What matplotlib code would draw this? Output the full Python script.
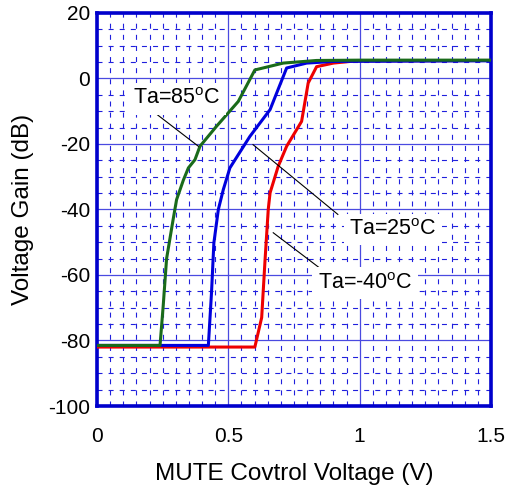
import matplotlib.pyplot as plt
from matplotlib.ticker import MultipleLocator

plt.rcParams['font.family'] = ['Liberation Sans', 'DejaVu Sans']
plt.rcParams['mathtext.fontset'] = 'custom'
plt.rcParams['mathtext.rm'] = 'Liberation Sans'
plt.rcParams['axes.unicode_minus'] = False

# curves
v_85 = [0, 0.24, 0.252, 0.265, 0.29, 0.303, 0.329, 0.348, 0.373, 0.392, 0.455, 0.538, 0.601, 0.709, 0.836, 1.0, 1.5]
db_85 = [-81.5, -81.5, -69.5, -55, -43, -37, -31, -27.3, -24.8, -20.7, -14.6, -7, 2.6, 4.7, 5.5, 5.6, 5.6]

v_25 = [0, 0.424, 0.436, 0.445, 0.462, 0.481, 0.506, 0.582, 0.659, 0.722, 0.798, 0.9, 1.5]
db_25 = [-81.5, -81.5, -65.4, -50.2, -40, -33.9, -27.3, -17.7, -9.5, 3.2, 4.7, 5.2, 5.4]

v_m40 = [0, 0.601, 0.627, 0.64, 0.652, 0.659, 0.69, 0.722, 0.779, 0.804, 0.836, 0.9, 0.989, 1.5]
db_m40 = [-82, -82, -73, -55.2, -40, -34.9, -26.8, -20.7, -13.1, -1.4, 3.6, 4.7, 5.4, 5.5]

labels = ['Ta=85$^{\\mathrm{o}}$C', 'Ta=25$^{\\mathrm{o}}$C', 'Ta=-40$^{\\mathrm{o}}$C']
label_xy = [(0.305, -6.2), (1.127, -46.1), (1.02, -62.5)]
leader_from = [(0.214, -10.1), (0.917, -41.5), (0.868, -59.1)]
leader_to = [(0.386, -20.7), (0.594, -20.2), (0.671, -47.1)]

fig = plt.figure(figsize=(5.07, 4.86), dpi=100)
ax = fig.add_axes([0.1913, 0.1646, 0.7771, 0.8087])

ax.plot(v_m40, db_m40, color='#ee0000', lw=2.2, zorder=3)
ax.plot(v_25, db_25, color='#0000dd', lw=2.2, zorder=4)
ax.plot(v_85, db_85, color='#1a6b1a', lw=2.2, zorder=5)

for (x0, y0), (x1, y1) in zip(leader_from, leader_to):
    ax.plot([x0, x1], [y0, y1], color='black', lw=0.8, zorder=6)

for txt, (x, y) in zip(labels, label_xy):
    ax.text(x, y, txt, fontsize=15.5, ha='center', va='center', zorder=7,
            bbox=dict(boxstyle='square,pad=0.25', fc='white', ec='none'))

ax.set_xlim(0, 1.5)
ax.set_ylim(-100, 20)
ax.xaxis.set_major_locator(MultipleLocator(0.5))
ax.xaxis.set_minor_locator(MultipleLocator(0.05))
ax.yaxis.set_major_locator(MultipleLocator(20))
ax.yaxis.set_minor_locator(MultipleLocator(5))
ax.set_xticks([0, 0.5, 1, 1.5])
ax.set_xticklabels(['0', '0.5', '1', '1.5'])

ax.grid(which='major', color='#4a4ae0', lw=0.9, ls='-', zorder=1)
ax.grid(which='minor', color='#2020dd', lw=0.8, ls=(0, (4.5, 5.5)), zorder=1)
ax.set_axisbelow(True)

ax.tick_params(which='both', length=0)
ax.tick_params(axis='x', labelsize=15, pad=15)
ax.tick_params(axis='y', labelsize=15, pad=5)

for s in ax.spines.values():
    s.set_color('#0000cc')
    s.set_linewidth(2.6)

ax.set_xlabel('MUTE Covtrol Voltage (V)', fontsize=17.5, labelpad=12)
ax.set_ylabel('Voltage Gain (dB)', fontsize=17.5, labelpad=10)

fig.savefig('out.png', dpi=100)
